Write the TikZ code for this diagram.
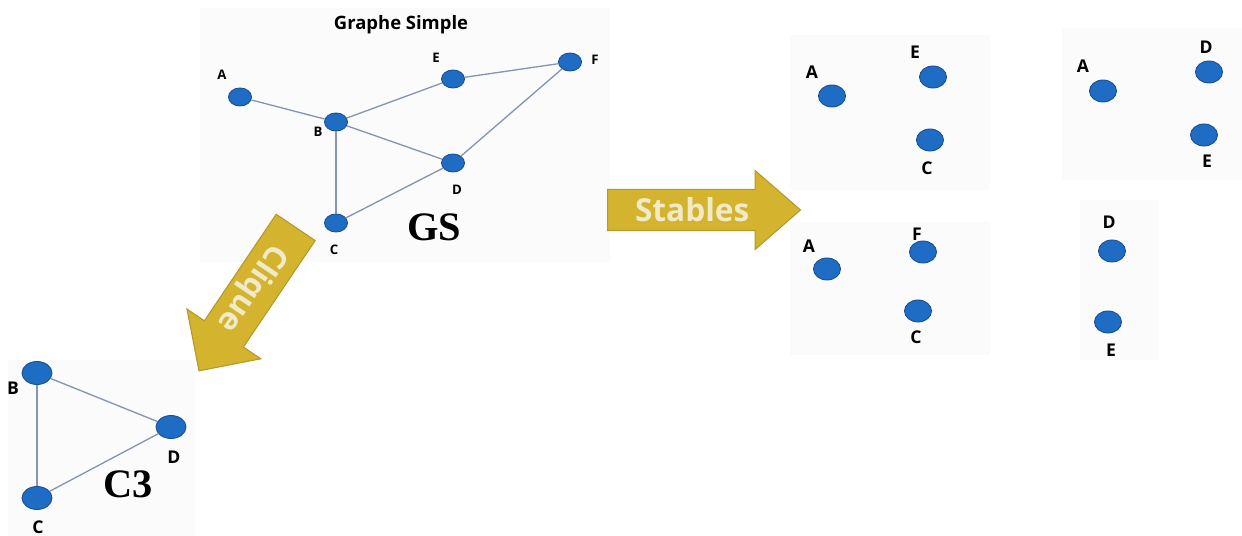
\documentclass[tikz,border=0pt]{standalone}
\usepackage{fontspec}
\setmainfont{Liberation Serif}
\setsansfont{Open Sans}
\usetikzlibrary{shapes.geometric, shapes.arrows}

\definecolor{vtxblue}{HTML}{1F6CC4}
\definecolor{vtxrim}{HTML}{1A4F94}
\definecolor{edgeblue}{HTML}{8595B0}
\definecolor{mustard}{HTML}{D4B42E}
\definecolor{mustardrim}{HTML}{B4982A}
\definecolor{cream}{HTML}{F1EAC8}

\begin{document}
\begin{tikzpicture}[x=0.02cm, y=0.02cm,
  vtx/.style={ellipse, draw=vtxrim, fill=vtxblue, line width=0.5pt, inner sep=0pt,
              minimum width=0.46cm, minimum height=0.36cm},
  midvtx/.style={vtx, minimum width=0.54cm, minimum height=0.44cm},
  bigvtx/.style={vtx, minimum width=0.6cm, minimum height=0.46cm},
  lbl/.style={font=\sffamily\bfseries\fontsize{7.5}{8}\selectfont, inner sep=0pt},
  biglbl/.style={font=\sffamily\bfseries\fontsize{10}{11}\selectfont, inner sep=0pt},
  edge/.style={edgeblue, line width=0.75pt},
  panel/.style={fill=gray!3, draw=none},
  gname/.style={font=\rmfamily\bfseries\fontsize{23}{24}\selectfont, inner sep=0pt},
  bigarrow/.style={single arrow, fill=mustard, draw=mustardrim, line width=0.6pt, text=cream,
                   font=\sffamily\bfseries\fontsize{18}{18}\selectfont, inner xsep=2pt, inner ysep=0pt},
]
  \useasboundingbox (0,0) rectangle (1242,-536);

  % light backdrops
  \fill[panel] (200,-8) rectangle (610,-262);
  \fill[panel] (8,-360) rectangle (195,-536);
  \fill[panel] (790,-35) rectangle (990,-190);
  \fill[panel] (1062,-28) rectangle (1242,-180);
  \fill[panel] (790,-222) rectangle (990,-355);
  \fill[panel] (1080,-200) rectangle (1158,-360);

  % simple graph
  \node[font=\sffamily\bfseries\fontsize{10.5}{12}\selectfont] (gstitle) at (401,-25) {Graphe Simple};
  \node[vtx] (gsA) at (240,-97) {};
  \node[vtx] (gsB) at (336,-122) {};
  \node[vtx] (gsE) at (453,-79) {};
  \node[vtx] (gsF) at (570,-62) {};
  \node[vtx] (gsD) at (453,-163) {};
  \node[vtx] (gsC) at (336,-223) {};
  \foreach \a/\b in {gsA/gsB, gsB/gsE, gsE/gsF, gsB/gsD, gsB/gsC, gsC/gsD, gsD/gsF}
    \draw[edge] (\a) -- (\b);
  \node[lbl] (gsAl) at (222,-75) {A};
  \node[lbl] (gsBl) at (318,-132) {B};
  \node[lbl] (gsEl) at (436,-58) {E};
  \node[lbl] (gsFl) at (595,-60) {F};
  \node[lbl] (gsDl) at (457,-190) {D};
  \node[lbl] (gsCl) at (334,-250) {C};
  \node[gname] (gs) at (434,-227) {GS};

  % clique
  \node[bigarrow, rotate=-124, anchor=tail, minimum height=3.46cm, text height=0.685cm,
        text depth=0.235cm, single arrow head extend=0.42cm] (clique) at (296,-227) {Clique};
  \node[bigvtx] (c3B) at (37,-373) {};
  \node[bigvtx] (c3D) at (171,-427) {};
  \node[bigvtx] (c3C) at (37,-498) {};
  \foreach \a/\b in {c3B/c3D, c3B/c3C, c3C/c3D}
    \draw[edge] (\a) -- (\b);
  \node[biglbl] (c3Bl) at (13,-388) {B};
  \node[biglbl] (c3Dl) at (174,-457) {D};
  \node[biglbl] (c3Cl) at (38,-527) {C};
  \node[gname] (c3) at (128,-484) {C3};

  % stable sets
  \node[bigarrow, anchor=tail, minimum height=3.86cm, text height=0.625cm, text depth=0.175cm,
        single arrow head extend=0.38cm, single arrow tip angle=82] (stables) at (607,-210) {Stables};

  \node[midvtx] (s1A) at (832,-96) {};
  \node[midvtx] (s1E) at (933,-77) {};
  \node[midvtx] (s1C) at (930,-140) {};
  \node[biglbl] (s1Al) at (812,-72) {A};
  \node[biglbl] (s1El) at (915,-52) {E};
  \node[biglbl] (s1Cl) at (927,-168) {C};

  \node[midvtx] (s2A) at (1103,-91) {};
  \node[midvtx] (s2D) at (1209,-72) {};
  \node[midvtx] (s2E) at (1204,-135) {};
  \node[biglbl] (s2Al) at (1083,-66) {A};
  \node[biglbl] (s2Dl) at (1206,-47) {D};
  \node[biglbl] (s2El) at (1207,-161) {E};

  \node[midvtx] (s3A) at (827,-269) {};
  \node[midvtx] (s3F) at (923,-252) {};
  \node[midvtx] (s3C) at (918,-311) {};
  \node[biglbl] (s3Al) at (809,-246) {A};
  \node[biglbl] (s3Fl) at (917,-234) {F};
  \node[biglbl] (s3Cl) at (916,-337) {C};

  \node[midvtx] (s4D) at (1112,-251) {};
  \node[midvtx] (s4E) at (1108,-322) {};
  \node[biglbl] (s4Dl) at (1109,-222) {D};
  \node[biglbl] (s4El) at (1111,-350) {E};
\end{tikzpicture}
\end{document}
